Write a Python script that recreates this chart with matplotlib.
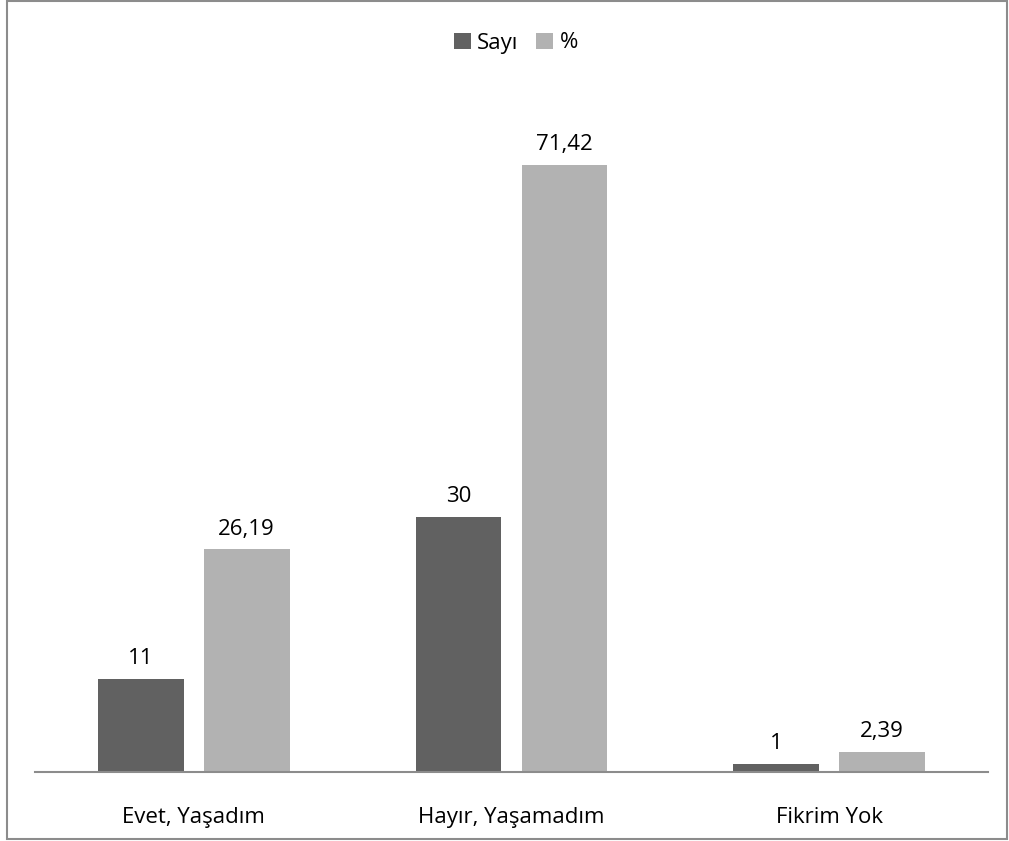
import matplotlib.pyplot as plt
import numpy as np
from matplotlib.patches import Rectangle

categories = ["Evet, Yaşadım", "Hayır, Yaşamadım", "Fikrim Yok"]
sayi = [11, 30, 1]
yuzde = [26.19, 71.42, 2.39]
sayi_labels = ["11", "30", "1"]
yuzde_labels = ["26,19", "71,42", "2,39"]

plt.rcParams["font.family"] = ["Open Sans", "DejaVu Sans"]

W, H = 1009, 841
fig = plt.figure(figsize=(W / 100, H / 100), dpi=100)
ax = fig.add_axes([35 / W, 1 - 772 / H, (988 - 35) / W, (772 - 92) / H])

x = np.arange(len(categories))
width = 0.27
gap = 0.063
dark = "#616161"
light = "#b2b2b2"

b1 = ax.bar(x - (width + gap) / 2, sayi, width, color=dark, label="Sayı")
b2 = ax.bar(x + (width + gap) / 2, yuzde, width, color=light, label="%")

for bars, labels in ((b1, sayi_labels), (b2, yuzde_labels)):
    for rect, lab in zip(bars, labels):
        ax.annotate(lab, (rect.get_x() + rect.get_width() / 2, rect.get_height()),
                    xytext=(0, 7), textcoords="offset points",
                    ha="center", va="bottom", fontsize=16, color="#000000")

ax.set_xlim(-0.5, 2.5)
ax.set_ylim(0, 80)
ax.set_xticks(x)
ax.set_xticklabels(categories, fontsize=16)
ax.tick_params(axis="x", length=0, pad=25)
ax.set_yticks([])
for s in ("top", "right", "left"):
    ax.spines[s].set_visible(False)
ax.spines["bottom"].set_color("#8c8c8c")
ax.spines["bottom"].set_linewidth(1.5)

fig.legend(loc="center", bbox_to_anchor=(516 / W, 1 - 43 / H), ncol=2,
           frameon=False, fontsize=16, handlelength=0.75, handleheight=0.75,
           handletextpad=0.3, columnspacing=0.8)

fig.patches.append(Rectangle((6.5 / W, 1 - 839 / H), (1007 - 6.5) / W, (839 - 1) / H,
                             transform=fig.transFigure, fill=False,
                             edgecolor="#8c8c8c", linewidth=1.5))

fig.savefig("out.png", dpi=100)
